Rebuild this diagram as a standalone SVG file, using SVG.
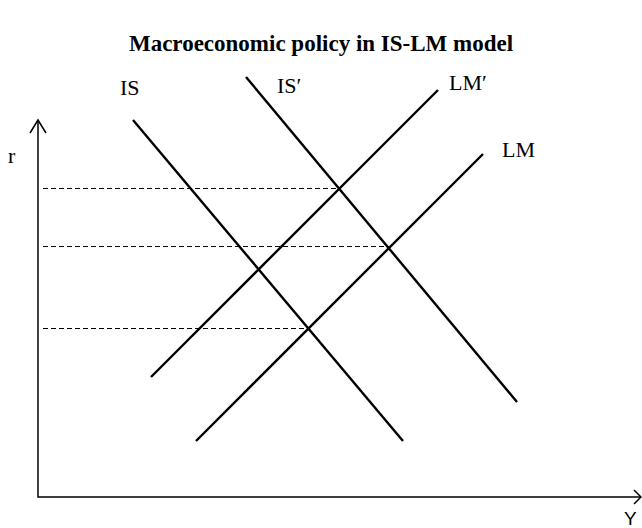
<svg xmlns="http://www.w3.org/2000/svg" width="642" height="528" viewBox="0 0 642 528">
<style>
.curve{stroke:#000;stroke-width:2.4;fill:none;stroke-linecap:butt}
.axis{stroke:#000;stroke-width:1.5;fill:none}
.dash{stroke:#000;stroke-width:1.1;stroke-dasharray:5,3;fill:none}
.lbl{font-family:"Liberation Serif","Times New Roman",serif;font-size:22px;fill:#000}
.title{font-family:"Liberation Serif","Times New Roman",serif;font-size:23px;font-weight:bold;fill:#000}
.sans{font-family:"Liberation Sans",Arial,sans-serif;font-size:19px;fill:#000}
</style>
<rect width="642" height="528" fill="#fff"/>
<text class="title" x="321" y="51" text-anchor="middle">Macroeconomic policy in IS-LM model</text>
<g id="axes">
<path class="axis" d="M38,121 V497 H640"/>
<path class="axis" d="M30,133 L38,120 L46,133"/>
<path class="axis" d="M634,490 L641,497 L634,504"/>
<text class="lbl" x="8" y="163">r</text>
<text class="sans" x="624" y="525">Y</text>
</g>
<g id="connectors">
<line class="dash" x1="43" y1="188.5" x2="339" y2="188.5"/>
<line class="dash" x1="43" y1="246.5" x2="389" y2="246.5"/>
<line class="dash" x1="43" y1="328.5" x2="308" y2="328.5"/>
</g>
<g id="IS">
<line class="curve" x1="133" y1="120" x2="403" y2="441"/>
<text class="lbl" x="120" y="95">IS</text>
</g>
<g id="IS-prime">
<line class="curve" x1="246" y1="77" x2="517" y2="402"/>
<text class="lbl" x="277" y="93">IS′</text>
</g>
<g id="LM-prime">
<line class="curve" x1="151" y1="377" x2="438" y2="90"/>
<text class="lbl" x="449" y="90">LM′</text>
</g>
<g id="LM">
<line class="curve" x1="196" y1="441" x2="483" y2="154"/>
<text class="lbl" x="502" y="157">LM</text>
</g>
</svg>
